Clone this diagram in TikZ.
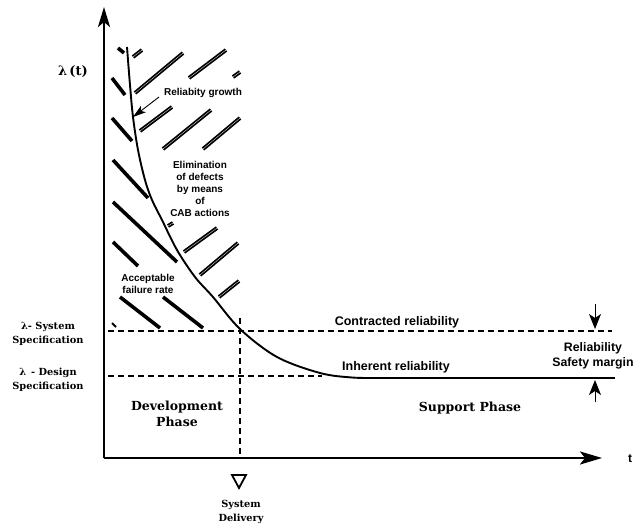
\documentclass[tikz,border=0pt]{standalone}
\usepackage{fontspec}
\setmainfont{Liberation Sans}
\newfontfamily\serifb{DejaVu Serif}
\usetikzlibrary{arrows.meta}

\tikzset{
  axis/.style={line width=2.8pt},
  hatchL/.style={line width=3.6pt},
  hatchR/.style={draw=black, double=white, double distance=0.3pt, line width=1.8pt},
  specline/.style={dash pattern=on 6pt off 4pt, line width=1.2pt},
  curveline/.style={line width=1.9pt},
  intxt/.style={font=\fontsize{10}{12}\selectfont\bfseries, align=center, inner sep=0pt},
  outtxt/.style={font=\fontsize{12.5}{14}\selectfont\bfseries, align=center, inner sep=0pt},
  phasetxt/.style={font=\serifb\bfseries\fontsize{12.5}{16}\selectfont, align=center, inner sep=0pt},
  spectxt/.style={font=\serifb\bfseries\fontsize{9.8}{14}\selectfont, align=center, inner sep=0pt},
  marginarrow/.style={line width=1pt, -{Stealth[length=15pt,width=12pt,inset=4pt]}},
}

\begin{document}
\begin{tikzpicture}[x=1pt, y=-1pt]
\useasboundingbox (0,0) rectangle (638,524);

% axes
\coordinate (O) at (104,458);
\coordinate (ytip) at (104,7);
\coordinate (xtip) at (602,458);
\draw[axis, -{Stealth[length=20pt,width=12pt,inset=5pt]}] (O) -- (ytip);
\draw[axis, line width=2.4pt, -{Stealth[length=22pt,width=13pt,inset=5pt]}] (O) -- (xtip);
\node[font=\bfseries\fontsize{12}{14}\selectfont, anchor=west, inner sep=0pt] (tlab) at (628,459) {t};
\node[font=\serifb\bfseries\fontsize{13}{14}\selectfont, inner sep=0pt] (lam) at (73,72) {λ\,(t)};

% hatching left of the curve
\draw[hatchL] (118,48) -- (124,53);
\draw[hatchL] (112,78) -- (125,95);
\draw[hatchL] (112,118) -- (132,141);
\draw[hatchL] (113,160) -- (148,198);
\draw[hatchL] (113,202) -- (177,262);
\draw[hatchL] (113,242) -- (138,266);
\draw[hatchL] (120,297) -- (160,328);
\draw[hatchL] (163,297) -- (203,328);
\draw[hatchL, line width=2pt] (112,323) -- (116,327);

% hatching right of the curve
\draw[hatchR] (133,57) -- (142,50);
\draw[hatchR] (135,93) -- (183,53);
\draw[hatchR] (189,78) -- (226,50);
\draw[hatchR] (233,77) -- (240,72);
\draw[hatchR] (140,131) -- (172,107);
\draw[hatchR] (163,149) -- (211,110);
\draw[hatchR] (203,149) -- (240,118);
\draw[hatchR] (168,226) -- (173,223);
\draw[hatchR] (184,252) -- (217,228);
\draw[hatchR] (200,275) -- (238,243);
\draw[hatchR] (219,297) -- (239,281);

% specification levels and delivery
\coordinate (sysL) at (108,331);
\coordinate (sysR) at (612,331);
\coordinate (desL) at (108,376);
\coordinate (desR) at (322,376);
\coordinate (delT) at (240,318);
\coordinate (delB) at (240,456);
\draw[specline] (sysL) -- (sysR);
\draw[specline] (desL) -- (desR);
\draw[specline] (delT) -- (delB);

% failure rate curve and inherent reliability level
\draw[curveline] plot[smooth, tension=0.55] coordinates {(127,47) (130,85) (133,117) (138,150) (145,180) (152,200) (162,220) (177,250) (195,277) (213,297) (240,329) (277,357) (320,373) (352,377.5) (380,378)};
\coordinate (inhL) at (378,378);
\coordinate (inhR) at (615,378);
\draw[line width=2.8pt] (inhL) -- (inhR);

% labels inside the hatched area
\node[intxt] (growth) at (203,93) {Reliabity growth};
\coordinate (growthtip) at (133,117);
\draw[line width=0.9pt, -{Stealth[length=13pt,width=8pt,inset=3pt]}] (159,97) -- (growthtip);
\node[intxt] (elim) at (200,189) {Elimination\\of defects\\by means\\of\\CAB actions};
\node[intxt] (accept) at (148,284) {Acceptable\\failure rate};

% reliability labels
\node[outtxt] (contr) at (397,322) {Contracted reliability};
\node[outtxt] (inher) at (396,367) {Inherent reliability};
\node[outtxt, font=\fontsize{12.3}{14.5}\selectfont\bfseries] (margin) at (593,356) {Reliability\\Safety margin};
\coordinate (dnA) at (595,304);
\coordinate (dnB) at (595,329);
\coordinate (upA) at (595,402);
\coordinate (upB) at (595,380);
\draw[marginarrow] (dnA) -- (dnB);
\draw[marginarrow] (upA) -- (upB);

% axis labels and phases
\node[spectxt] (sysspec) at (48,334) {λ- System\\Specification};
\node[spectxt] (desspec) at (48,380) {λ \,- Design\\Specification};
\node[phasetxt] (dev) at (177,414) {Development\\Phase};
\node[phasetxt] (sup) at (470,408) {Support Phase};
\draw[line width=1.8pt, line join=miter] (232,475) -- (246,475) -- (239,488) -- cycle;
\node[spectxt] (deliv) at (241,512) {System\\Delivery};
\end{tikzpicture}
\end{document}
